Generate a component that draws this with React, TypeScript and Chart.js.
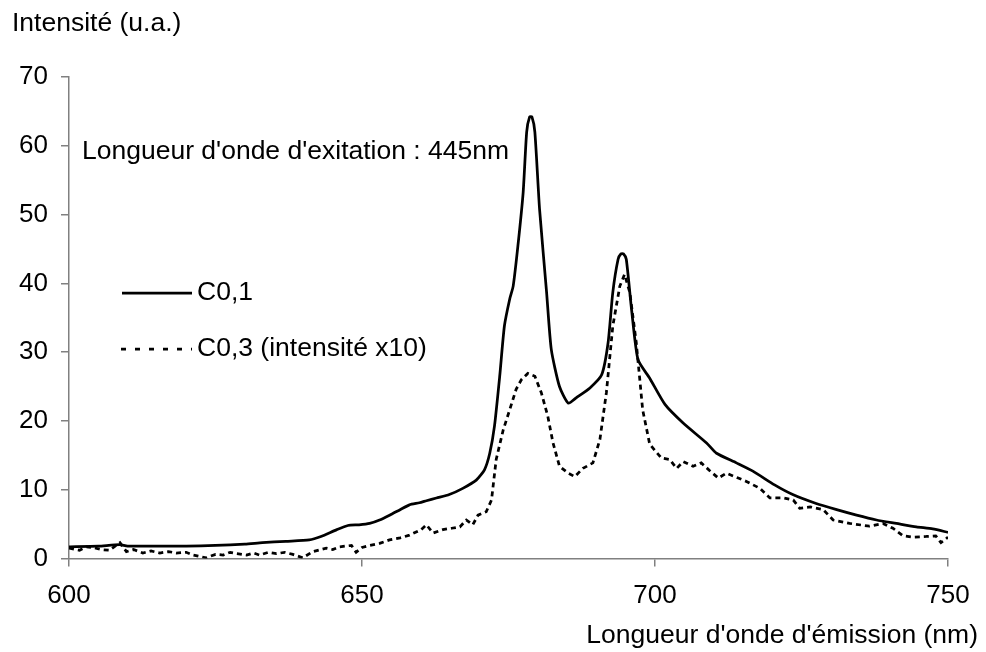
import React, { useEffect, useRef } from 'react';
import { Chart, registerables } from 'chart.js';

Chart.register(...registerables);

// ---- Data ----
const wavelengthsC01 = [
  600, 605, 608.6, 610, 615, 620, 625, 630, 633, 637, 641, 643, 645.7, 647.6, 649.5, 651.3, 653, 654.7,
  656.5, 658.1, 659.8, 661, 662.7, 664.9, 667.2, 669.5, 670.9, 671.8, 672.6, 673.5, 674.3, 675.2, 675.8,
  676.6, 677.5, 678.1, 678.6, 679.0, 679.5, 680.3, 681.5, 682.3, 683.7, 685.2, 686.6, 688.9, 690.9, 692, 692.8,
  693.7, 694.2, 694.6, 695.1, 696, 697.1, 699.1, 701.7, 704.8, 708.8, 710.5, 713.9, 716.7, 720.4, 723.5, 727.5,
  731, 734.4, 737.8, 741.2, 744.6, 747.4, 750,
];
const intensityC01 = [
  1.7, 1.8, 2.0, 1.8, 1.8, 1.8, 1.9, 2.1, 2.3, 2.5, 2.7, 3.2, 4.2, 4.8, 4.9, 5.1, 5.6, 6.3,
  7.1, 7.8, 8.1, 8.4, 8.8, 9.3, 10.2, 11.4, 12.9, 15.3, 19.2, 26.5, 33.8, 37.7, 39.6,
  45.4, 53.2, 62.0, 64.2, 64.2, 62.0, 50.8, 38.7, 30.4, 25.0, 22.6, 23.4, 24.8, 26.7, 31.4, 38.7,
  43.5, 44.3, 44.3, 43.5, 36.2, 28.9, 26.2, 22.4, 19.7, 16.8, 15.3, 13.9, 12.7, 10.7, 9.3, 8.0,
  7.1, 6.3, 5.6, 5.1, 4.6, 4.3, 3.8,
];

const wavelengthsC03 = [
  600, 601.8, 603, 604.1, 605.5, 606.9, 608.7, 609.8, 611, 612.6, 614, 615.5, 617, 618.3, 620, 621.2,
  623.4, 625, 626.3, 627.5, 628.6, 630.3, 631.5, 632.5, 634, 635.4, 636.8, 638.2, 639.9, 641.6, 643.9,
  645, 646.2, 648.2, 649, 650, 651.3, 653, 654.7, 656.5, 658.1, 660.1, 661, 662.1, 663.8, 665.3, 666.7,
  667.8, 668.9, 669.8, 671.2, 672.1, 672.9, 674.1, 675.2, 676.3, 677.2, 678.3, 679.5, 680.6, 681.7,
  682.6, 683.7, 685.2, 686.3, 687.7, 689.4, 690.6, 691.7, 692.8, 694, 694.8, 695.7, 696.8, 697.9,
  699.1, 701.1, 702.5, 703.7, 704.8, 706.5, 707.9, 709.3, 710.8, 712.2, 714.2, 715.6, 717.9, 719.6,
  721.9, 723.6, 724.7, 726.5, 728.7, 730.4, 733.2, 736.6, 738.9, 740.6, 742.3, 744, 746.3, 747.9,
  748.8, 750,
];
const intensityC03 = [
  1.5, 1.2, 1.7, 1.6, 1.3, 1.2, 2.3, 1.0, 1.3, 0.8, 1.1, 0.8, 1.0, 0.8, 0.9, 0.5,
  0.1, 0.6, 0.5, 0.9, 0.7, 0.5, 0.8, 0.5, 0.9, 0.7, 0.9, 0.6, 0.1, 1.0, 1.5,
  1.3, 1.7, 1.9, 0.9, 1.6, 1.9, 2.2, 2.7, 3.0, 3.4, 4.2, 4.9, 3.7, 4.2, 4.4, 4.6,
  5.6, 4.9, 6.3, 6.8, 8.5, 14.4, 18.7, 21.6, 24.6, 26.0, 26.9, 26.5, 24.1, 20.7,
  16.8, 13.4, 12.4, 11.9, 13.1, 13.9, 17.3, 24.1, 33.8, 39.6, 41.3, 38.7, 31.4, 21.6,
  16.6, 14.6, 14.4, 13.1, 14.1, 13.4, 13.9, 12.8, 11.7, 12.4, 11.7, 11.2, 10.2, 8.8,
  8.8, 8.5, 7.3, 7.5, 7.1, 5.6, 5.1, 4.7, 5.1, 4.4, 3.3, 3.1, 3.2, 3.3,
  2.3, 3.1,
];

const xTickValues = [600, 650, 700, 750];
const yTickValues = [0, 10, 20, 30, 40, 50, 60, 70];
const seriesLabels = ['C0,1', 'C0,3 (intensité x10)'];
const yAxisTitle = 'Intensité (u.a.)';
const xAxisTitle = "Longueur d'onde d'émission (nm)";
const annotationText = "Longueur d'onde d'exitation : 445nm";

const FONT_FAMILY = '"Liberation Sans", Arial, sans-serif';
const FONT_SIZE = 26;
const TEXT_SIZE = 26.5;
const AXIS_GRAY = '#808080';
const LINE_WIDTH = 2.75;

const textPlugin = {
  id: 'customText',
  afterDraw(chart: any) {
    const ctx = chart.ctx as CanvasRenderingContext2D;
    ctx.save();
    ctx.fillStyle = '#000';
    ctx.font = `${TEXT_SIZE}px ${FONT_FAMILY}`;
    ctx.textBaseline = 'middle';
    ctx.textAlign = 'left';
    ctx.fillText(yAxisTitle, 12, 24);
    ctx.textAlign = 'right';
    ctx.fillText(xAxisTitle, 978, 636);
    ctx.textAlign = 'left';
    ctx.fillText(annotationText, 82, 152);

    // legend
    ctx.strokeStyle = '#000';
    ctx.lineWidth = LINE_WIDTH;
    ctx.setLineDash([]);
    ctx.beginPath();
    ctx.moveTo(122, 293);
    ctx.lineTo(192, 293);
    ctx.stroke();
    ctx.setLineDash([5, 9]);
    ctx.beginPath();
    ctx.moveTo(121, 349);
    ctx.lineTo(192, 349);
    ctx.stroke();
    ctx.setLineDash([]);
    ctx.fillText(seriesLabels[0], 197, 293);
    ctx.fillText(seriesLabels[1], 197, 349);
    ctx.restore();
  },
};

export default function App() {
  const canvasRef = useRef<HTMLCanvasElement | null>(null);

  useEffect(() => {
    const canvas = canvasRef.current;
    if (!canvas) return;
    const chart = new Chart(canvas, {
      type: 'line',
      data: {
        datasets: [
          {
            label: seriesLabels[0],
            data: wavelengthsC01.map((x, i) => ({ x, y: intensityC01[i] })),
            borderColor: '#000',
            borderWidth: LINE_WIDTH,
            pointRadius: 0,
            tension: 0.2,
            fill: false,
          },
          {
            label: seriesLabels[1],
            data: wavelengthsC03.map((x, i) => ({ x, y: intensityC03[i] })),
            borderColor: '#000',
            borderWidth: LINE_WIDTH,
            borderDash: [5, 4],
            pointRadius: 0,
            tension: 0,
            fill: false,
          },
        ],
      },
      options: {
        responsive: false,
        animation: false,
        devicePixelRatio: 1,
        layout: { padding: { left: 0, top: 77, right: 38, bottom: 0 } },
        plugins: {
          legend: { display: false },
          tooltip: { enabled: false },
          title: { display: false },
        },
        scales: {
          x: {
            type: 'linear',
            min: 600,
            max: 750,
            afterBuildTicks: (scale: any) => {
              scale.ticks = xTickValues.map((v) => ({ value: v }));
            },
            afterFit: (scale: any) => {
              scale.height = 93.5;
            },
            grid: {
              drawOnChartArea: false,
              drawTicks: true,
              tickLength: 8,
              color: AXIS_GRAY,
              lineWidth: 1.5,
            },
            border: { display: true, color: AXIS_GRAY, width: 1.5 },
            ticks: {
              color: '#000',
              padding: 14,
              maxRotation: 0,
              font: { family: FONT_FAMILY, size: FONT_SIZE },
            },
          },
          y: {
            type: 'linear',
            min: 0,
            max: 70,
            afterBuildTicks: (scale: any) => {
              scale.ticks = yTickValues.map((v) => ({ value: v }));
            },
            afterFit: (scale: any) => {
              scale.width = 69;
            },
            grid: {
              drawOnChartArea: false,
              drawTicks: true,
              tickLength: 8,
              color: AXIS_GRAY,
              lineWidth: 1.5,
            },
            border: { display: true, color: AXIS_GRAY, width: 1.5 },
            ticks: {
              color: '#000',
              padding: 13,
              font: { family: FONT_FAMILY, size: FONT_SIZE },
            },
          },
        },
      },
      plugins: [textPlugin],
    });
    return () => chart.destroy();
  }, []);

  return (
    <div style={{ position: 'fixed', left: 0, top: 0, width: 986, height: 652, background: '#fff' }}>
      <canvas ref={canvasRef} width={986} height={652} style={{ width: 986, height: 652, display: 'block' }} />
    </div>
  );
}
